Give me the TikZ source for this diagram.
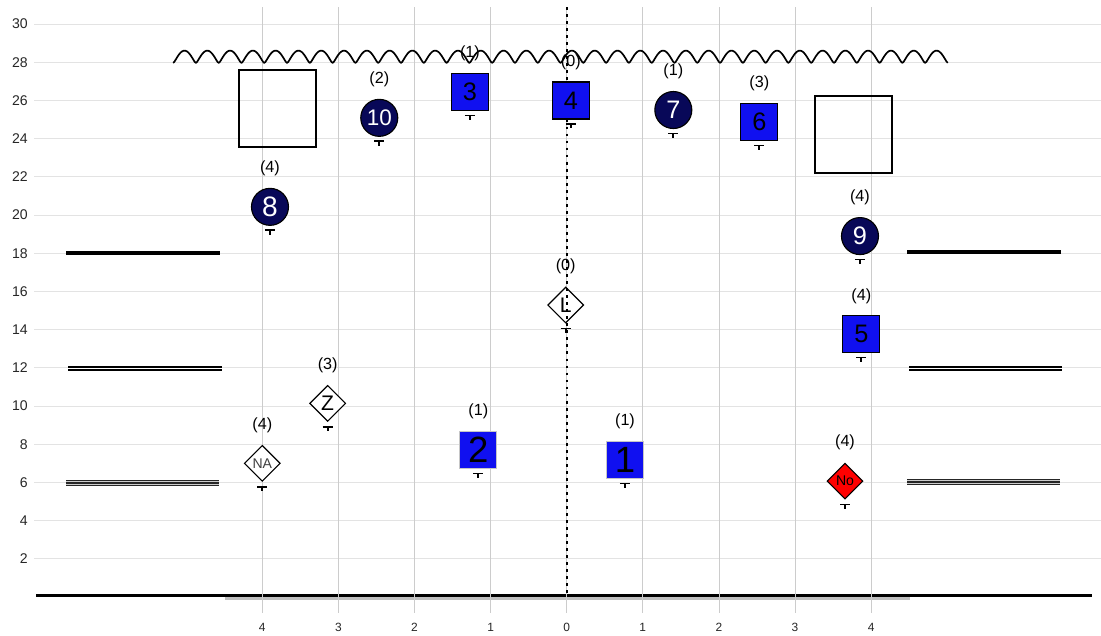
\documentclass[tikz,border=0pt]{standalone}
\usepackage{fontspec}
\setmainfont{Liberation Sans}
\usetikzlibrary{positioning,shapes.geometric}

\definecolor{navyball}{RGB}{8,8,88}
\definecolor{boxblue}{RGB}{16,16,240}

\begin{document}
\begin{tikzpicture}[
  x=1.9025cm, y=0.4775cm,
  gridh/.style={draw=gray!22, line width=0.6pt},
  gridv/.style={draw=gray!40, line width=0.5pt},
  ball/.style={circle, draw=black, line width=0.8pt, fill=navyball, text=white, minimum size=0.925cm, inner sep=0pt, font=\fontsize{18pt}{18pt}\selectfont},
  sqbox/.style={rectangle, draw=black, line width=0.8pt, fill=boxblue, minimum size=0.925cm, inner sep=0pt, font=\fontsize{18pt}{18pt}\selectfont},
  bigsq/.style={sqbox, draw=gray!45, font=\fontsize{26pt}{26pt}\selectfont},
  dmd/.style={diamond, draw=black, line width=0.8pt, fill=white, minimum width=0.9cm, minimum height=0.9cm, inner sep=0pt, font=\fontsize{15pt}{15pt}\selectfont},
  emptybox/.style={rectangle, draw=black, line width=1.3pt, minimum size=1.925cm},
  cnt/.style={font=\fontsize{11.5pt}{12pt}\selectfont, inner sep=0pt},
  axlab/.style={font=\fontsize{10pt}{10pt}\selectfont, text=black!85, inner sep=0pt},
  single bar/.style={line width=2.8pt},
  double bar/.style={double, double distance=1pt, line width=1pt},
  triple bar/.style={draw=black!85, line width=1.8pt, preaction={draw=black!85, line width=4.2pt}, preaction={draw=gray!40, line width=2.6pt}},
  capmark/.pic={
    \draw[line width=1.2pt] (-0.125cm,0) -- (0.125cm,0);
    \draw[line width=1.2pt] (0,0) -- (0,-0.11cm);
  }
]
  \useasboundingbox (-7.447,-1.99) rectangle (7.021,31.26);

  % grid
  \foreach \v in {2,4,...,30} {
    \draw[gridh] (-7.0,\v) -- (7.021,\v);
    \node[axlab, anchor=east] (yl\v) at (-7.08,\v) {\v};
  }

  % base line
  \draw[draw=gray!50, line width=2.4pt] (-4.49,-0.05) -- (4.511,-0.05);
  \draw[line width=2.1pt] (-6.973,0.105) -- (6.902,0.105);

  \foreach \u in {-4,...,4} {
    \draw[gridv] (\u,30.89) -- (\u,-0.84);
    \pgfmathtruncatemacro{\absu}{abs(\u)}
    \node[axlab, font=\fontsize{8.5pt}{8.5pt}\selectfont] (xl\u) at (\u,-1.57) {\absu};
  }

  % side bars
  \coordinate (la18) at (-6.574,18.03); \coordinate (lb18) at (-4.556,18.03);
  \coordinate (la12) at (-6.553,11.97); \coordinate (lb12) at (-4.534,11.97);
  \coordinate (la6) at (-6.574,5.98);   \coordinate (lb6) at (-4.565,5.98);
  \coordinate (ra18) at (4.476,18.05);  \coordinate (rb18) at (6.491,18.05);
  \coordinate (ra12) at (4.498,11.97);  \coordinate (rb12) at (6.509,11.97);
  \coordinate (ra6) at (4.472,6.02);    \coordinate (rb6) at (6.482,6.02);
  \draw[single bar] (la18) -- (lb18);
  \draw[double bar] (la12) -- (lb12);
  \draw[triple bar] (la6) -- (lb6);
  \draw[single bar] (ra18) -- (rb18);
  \draw[double bar] (ra12) -- (rb12);
  \draw[triple bar] (ra6) -- (rb6);

  % wave
  \draw[line width=1.2pt, line join=round, domain=0:34, samples=681, variable=\t]
    plot ({-5.172+\t*0.29947}, {27.85+0.75*sqrt(sin(180*\t)^2+0.025)});

  % empty boxes
  \node[emptybox] (boxL) at (-3.800,25.58) {};
  \node[emptybox] (boxR) at (3.766,24.23) {};

  % centre line
  \node[dmd] (nL) at (-0.013,15.29) {L};
  \coordinate (ctop) at (0,30.89);
  \coordinate (cbot) at (0,0.105);
  \draw[line width=1.4pt, dash pattern=on 2pt off 3pt] (ctop) -- (cbot);

  % markers
  \node[ball, font=\fontsize{20pt}{20pt}\selectfont] (n8) at (-3.899,20.43) {8};
  \node[ball, font=\fontsize{16pt}{16pt}\selectfont] (n10) at (-2.463,25.09) {10};
  \node[sqbox] (n3) at (-1.271,26.44) {3};
  \node[sqbox] (n4) at (0.054,26.0) {4};
  \node[ball] (n7) at (1.401,25.50) {7};
  \node[sqbox] (n6) at (2.531,24.87) {6};
  \node[ball] (n9) at (3.854,18.90) {9};
  \node[sqbox] (n5) at (3.871,13.76) {5};
  \node[dmd] (nZ) at (-3.141,10.14) {Z};
  \node[dmd, font=\fontsize{10pt}{10pt}\selectfont, text=black!75] (nNA) at (-4.0,7.0) {NA};
  \node[bigsq] (n2) at (-1.162,7.70) {2};
  \node[bigsq] (n1) at (0.766,7.17) {1};
  \node[dmd, fill=red, font=\fontsize{10pt}{10pt}\selectfont] (nNo) at (3.657,6.07) {No};

  \foreach \n/\c in {n8/4, n10/2, n3/1, n4/0, n7/1, n6/3, n9/4, n5/4, nL/0, nZ/3, nNA/4, n2/1, n1/1, nNo/4} {
    \node[cnt, above=0.96cm of \n.center, anchor=center] (c\n) {(\c)};
    \pic at ([yshift=-0.585cm]\n.center) {capmark};
  }
\end{tikzpicture}
\end{document}
